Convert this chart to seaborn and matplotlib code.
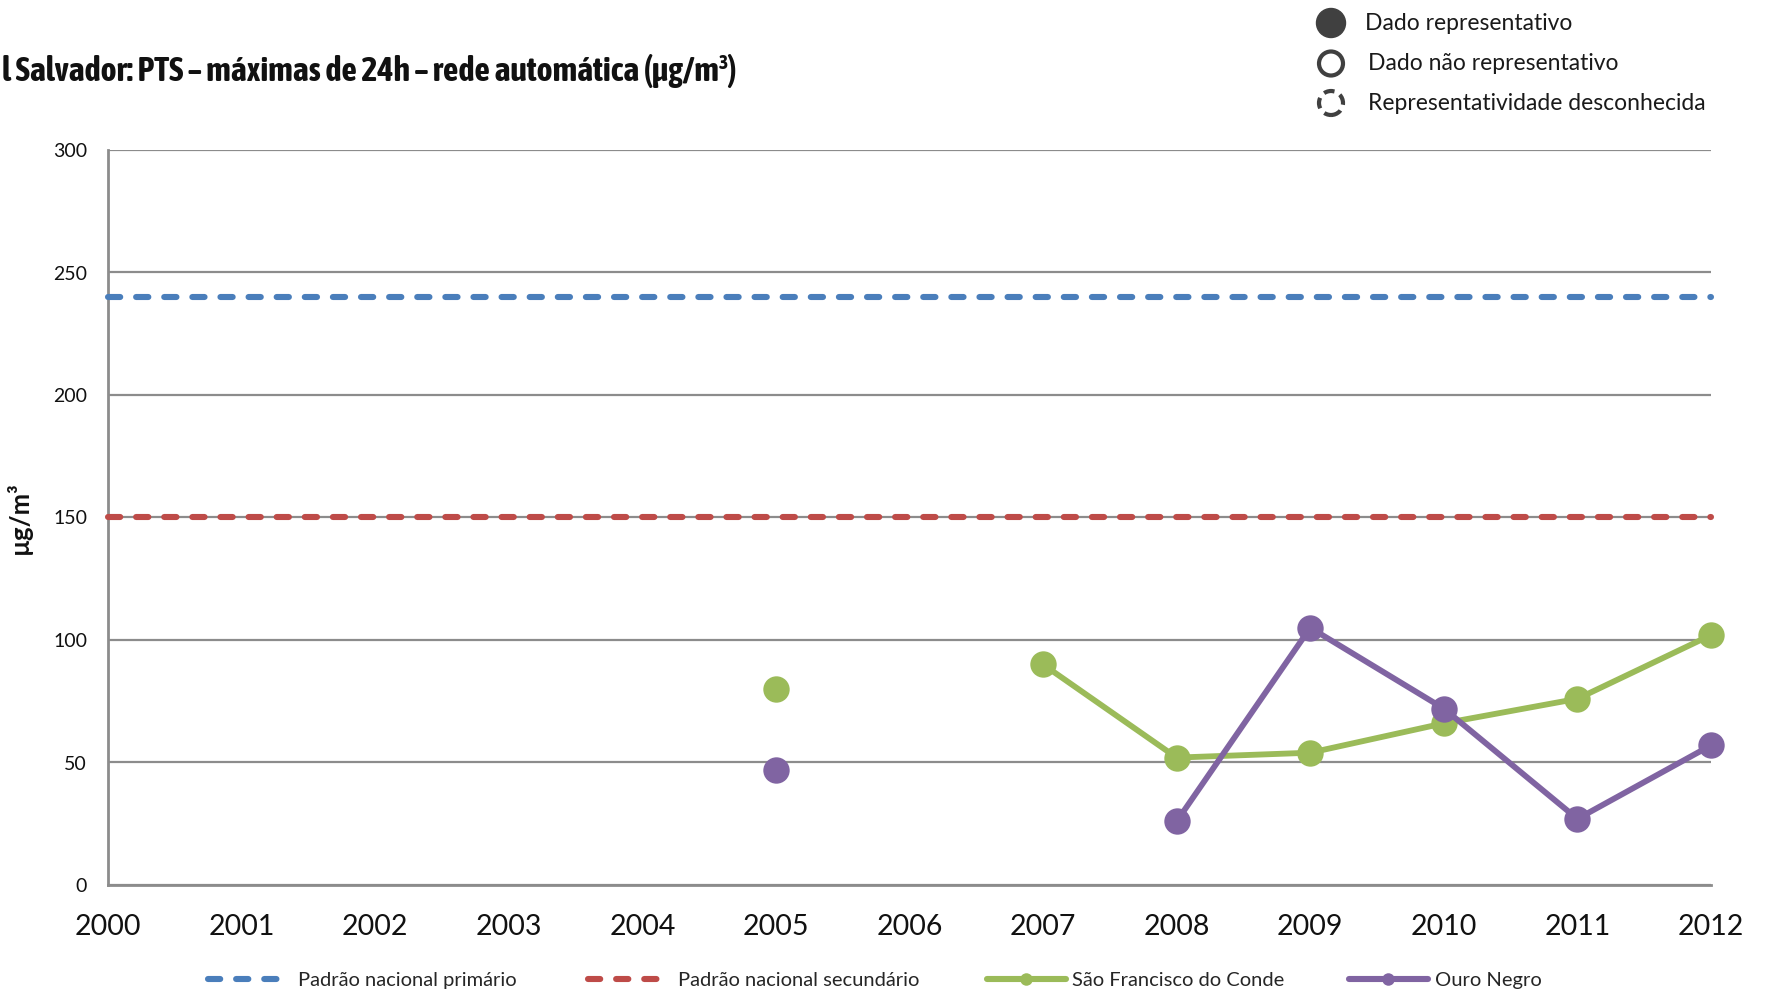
import numpy as np
import pandas as pd
import matplotlib
matplotlib.use("Agg")
import matplotlib.pyplot as plt
from matplotlib.lines import Line2D
from matplotlib.patches import Circle
from matplotlib import font_manager
import seaborn as sns

# ---- data ----
years = [2000, 2001, 2002, 2003, 2004, 2005, 2006, 2007, 2008, 2009, 2010, 2011, 2012]
sao_francisco = [np.nan, np.nan, np.nan, np.nan, np.nan, 80, np.nan, 90, 52, 54, 66, 76, 102]
ouro_negro = [np.nan, np.nan, np.nan, np.nan, np.nan, 47, np.nan, np.nan, 26, 105, 72, 27, 57]
padrao_primario = 240
padrao_secundario = 150
y_ticks = [0, 50, 100, 150, 200, 250, 300]
series_names = ["Padrão nacional primário", "Padrão nacional secundário",
                "São Francisco do Conde", "Ouro Negro"]
colors = ["#4A7EBB", "#BE4B48", "#9BBB59", "#8064A2"]
title = "l Salvador: PTS – máximas de 24h – rede automática (µg/m³)"
rep_labels = ["Dado representativo", "Dado não representativo", "Representatividade desconhecida"]

sns.set_theme(style="white")
plt.rcParams["font.family"] = ["Lato", "DejaVu Sans"]

# prefer a narrow/condensed family that has a bold face for the title
bold_narrow = sorted({f.name for f in font_manager.fontManager.ttflist
                      if ("Narrow" in f.name or "Condensed" in f.name)
                      and (f.weight in ("bold", 700) or str(f.weight) in ("700", "bold"))})
if bold_narrow:
    title_family = [bold_narrow[0], "DejaVu Sans"]
else:
    title_family = ["Lato", "DejaVu Sans"]

W, H = 1767, 996
fig = plt.figure(figsize=(W / 100, H / 100), dpi=100)
ax = fig.add_axes([108 / W, 1 - 885 / H, (1711 - 108) / W, (885 - 150) / H])


def segments(vals):
    seg, ids, prev_nan = 0, [], True
    for v in vals:
        if np.isnan(v):
            prev_nan = True
            ids.append(-1)
        else:
            if prev_nan:
                seg += 1
            prev_nan = False
            ids.append(seg)
    return ids


DASH = (2.0, 2.6)
# reference lines
for val, col in [(padrao_primario, colors[0]), (padrao_secundario, colors[1])]:
    df_ref = pd.DataFrame({"ano": years, "v": [val] * len(years)})
    sns.lineplot(data=df_ref, x="ano", y="v", ax=ax, color=col, lw=4.4, zorder=3)
    ax.lines[-1].set_dashes(DASH)
    ax.lines[-1].set_dash_capstyle("round")

# station series
for vals, col in [(sao_francisco, colors[2]), (ouro_negro, colors[3])]:
    df = pd.DataFrame({"ano": years, "v": vals, "seg": segments(vals)}).dropna()
    sns.lineplot(data=df, x="ano", y="v", units="seg", estimator=None, ax=ax,
                 color=col, lw=4.2, marker="o", markersize=19, markeredgewidth=0,
                 zorder=4, legend=False)
for ln in ax.lines:
    ln.set_clip_on(False)

ax.set_xlim(2000, 2012)
ax.set_ylim(0, 300)
ax.set_xticks(years)
ax.set_xticklabels([str(y) for y in years], fontsize=20.5, color="#111111")
ax.set_yticks(y_ticks)
ax.set_yticklabels([str(t) for t in y_ticks], fontsize=14, color="#111111")
ax.yaxis.grid(True, color="#8c8c8c", lw=1.6, zorder=0)
ax.set_axisbelow(True)
for s in ["top", "right"]:
    ax.spines[s].set_visible(False)
for s in ["left", "bottom"]:
    ax.spines[s].set_color("#8c8c8c")
    ax.spines[s].set_linewidth(2)
ax.tick_params(axis="both", which="both", direction="out", length=7, width=2,
               color="#8c8c8c")
ax.tick_params(axis="x", pad=14)
ax.tick_params(axis="y", pad=8)
ax.set_xlabel("")
ax.set_ylabel("µg/m³", fontsize=18.5, fontweight="bold", color="#111111")
ax.yaxis.set_label_coords((31.6 - 108) / (1711 - 108), 0.5)

# title (left part is cut off in the reference)
t = fig.text(2 / W, 1 - 71 / H, title, ha="left", va="center",
             fontsize=19, fontweight="bold", family=title_family, color="#111111")
fig.canvas.draw()
bb = t.get_window_extent()
t.set_fontsize(19 * 735 / bb.width)

# representativeness legend (top right)
tr = fig.dpi_scale_trans
ys = [(H - 23) / 100, (H - 63.5) / 100, (H - 103) / 100]
cx = 13.31
fig.patches.append(Circle((cx, ys[0]), 0.145, transform=tr, facecolor="#404040",
                          edgecolor="#404040", figure=fig))
fig.patches.append(Circle((cx, ys[1]), 0.12, transform=tr, facecolor="white",
                          edgecolor="#404040", lw=3.0, figure=fig))
fig.patches.append(Circle((cx, ys[2]), 0.12, transform=tr, facecolor="white",
                          edgecolor="#404040", lw=3.0, linestyle=(0, (2.6, 1.5)),
                          figure=fig))
for lab, yy, xx in zip(rep_labels, ys, [13.65, 13.68, 13.68]):
    fig.text(xx / (W / 100), yy / (H / 100), lab, ha="left", va="center",
             fontsize=16.5, color="#1a1a1a")

# bottom legend: one legend box per entry, placed at the reference positions
handles = [
    Line2D([], [], color=colors[0], lw=4.4, dashes=DASH, dash_capstyle="round"),
    Line2D([], [], color=colors[1], lw=4.4, dashes=DASH, dash_capstyle="round"),
    Line2D([], [], color=colors[2], lw=4.4, marker="o", markersize=9, markeredgewidth=0),
    Line2D([], [], color=colors[3], lw=4.4, marker="o", markersize=9, markeredgewidth=0),
]
starts = [208, 588, 987, 1349]
pads = [0.55, 0.55, 0.3, 0.35]
for h, name, x0, pd_ in zip(handles, series_names, starts, pads):
    fig.legend([h], [name], loc="center left", bbox_to_anchor=(x0 / W, 1 - 980 / H),
               frameon=False, fontsize=14.5, handlelength=3.9, handletextpad=pd_,
               borderpad=0, borderaxespad=0)

fig.savefig("out.png", dpi=100)
